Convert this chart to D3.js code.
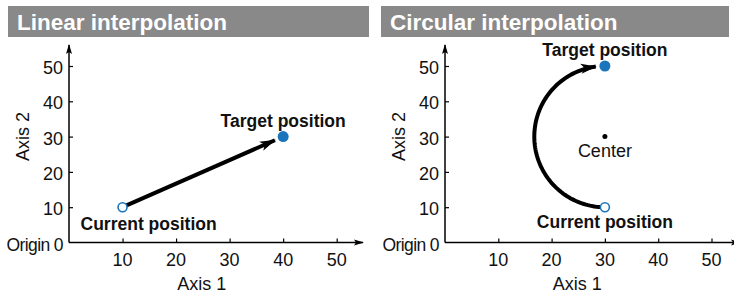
<!DOCTYPE html>
<html>
<head>
<meta charset="utf-8">
<script src="https://cdn.jsdelivr.net/npm/d3@7"></script>
<style>
  body { margin: 0; background: #fff; }
  text { font-family: "Liberation Sans", Arial, Helvetica, sans-serif; }
</style>
</head>
<body>
<svg id="chart" width="734" height="293"></svg>
<script>
// chart data
const panelTitles = ["Linear interpolation", "Circular interpolation"];
const xTicks = [10, 20, 30, 40, 50];
const yTicks = [10, 20, 30, 40, 50];
const linearCurrent = [10, 10];
const linearTarget = [40, 30];
const circCurrent = [30, 10];
const circTarget = [30, 50];
const circCenter = [30, 30];

const svg = d3.select('#chart');
const blue = '#1a75bc';

// arrow markers
const defs = svg.append('defs');
defs.append('marker')
    .attr('id', 'bigArrow')
    .attr('markerUnits', 'userSpaceOnUse')
    .attr('viewBox', '-16 -6 18 12')
    .attr('refX', 0).attr('refY', 0)
    .attr('markerWidth', 18).attr('markerHeight', 12)
    .attr('orient', 'auto')
    .append('path')
    .attr('d', 'M-15,-5 L1,0 L-15,5 L-11,0 Z')
    .attr('fill', '#000');
defs.append('marker')
    .attr('id', 'axisArrow')
    .attr('markerUnits', 'userSpaceOnUse')
    .attr('viewBox', '-10 -4 12 8')
    .attr('refX', 0).attr('refY', 0)
    .attr('markerWidth', 12).attr('markerHeight', 8)
    .attr('orient', 'auto')
    .append('path')
    .attr('d', 'M-9,-3 L1,0 L-9,3 L-7,0 Z')
    .attr('fill', '#000');

function drawPanel(i, left, right, axisEnd) {
    const x = d3.scaleLinear().domain([0, 50]).range([left, right]);
    const y = d3.scaleLinear().domain([0, 50]).range([242.5, 66]);
    const g = svg.append('g');

    // title bar
    const barX = i === 0 ? 8 : 381;
    const barW = i === 0 ? 361 : 348;
    g.append('rect').attr('x', barX).attr('y', 6).attr('width', barW).attr('height', 31)
        .attr('fill', '#898989');
    g.append('text').attr('x', barX + 9).attr('y', 30)
        .attr('fill', '#fff').attr('font-weight', 'bold').attr('font-size', 22.5)
        .text(panelTitles[i]);

    // axes lines with arrows
    g.append('line').attr('x1', x(0)).attr('y1', y(0)).attr('x2', x(0)).attr('y2', 45)
        .attr('stroke', '#000').attr('stroke-width', 1.5).attr('marker-end', 'url(#axisArrow)');
    g.append('line').attr('x1', x(0)).attr('y1', y(0)).attr('x2', axisEnd).attr('y2', y(0))
        .attr('stroke', '#000').attr('stroke-width', 1.5).attr('marker-end', 'url(#axisArrow)');

    // ticks
    const xAxis = d3.axisTop(x).tickValues(xTicks).tickSize(4).tickFormat('');
    g.append('g').attr('transform', `translate(0,${y(0)})`).call(xAxis)
        .call(s => s.select('.domain').remove())
        .call(s => s.selectAll('line').attr('stroke-width', 1.2));
    const yAxis = d3.axisRight(y).tickValues(yTicks).tickSize(4).tickFormat('');
    g.append('g').attr('transform', `translate(${x(0)},0)`).call(yAxis)
        .call(s => s.select('.domain').remove())
        .call(s => s.selectAll('line').attr('stroke-width', 1.2));

    // tick labels
    g.selectAll('.xl').data(xTicks).enter().append('text')
        .attr('x', d => x(d)).attr('y', y(0) + 23.5)
        .attr('text-anchor', 'middle').attr('font-size', 18).attr('fill', '#111')
        .text(d => d);
    g.selectAll('.yl').data(yTicks).enter().append('text')
        .attr('x', x(0) - 6).attr('y', d => y(d) + 8)
        .attr('text-anchor', 'end').attr('font-size', 18).attr('fill', '#111')
        .text(d => d);
    g.append('text').attr('x', x(0) - 6).attr('y', y(0) + 8)
        .attr('text-anchor', 'end').attr('font-size', 17.5).attr('letter-spacing', -0.6)
        .attr('fill', '#111')
        .text('Origin 0');

    // axis titles
    g.append('text').attr('x', (x(0) + x(50)) / 2 - 1).attr('y', 290)
        .attr('text-anchor', 'middle').attr('font-size', 18).attr('fill', '#111')
        .text('Axis 1');
    g.append('text')
        .attr('transform', `translate(${x(0) - 40},${y(30) + 0}) rotate(-90)`)
        .attr('text-anchor', 'middle').attr('font-size', 18).attr('fill', '#111')
        .text('Axis 2');

    return { g, x, y };
}

// left panel: linear interpolation
{
    const { g, x, y } = drawPanel(0, 69, 336.7, 363);
    const x0 = x(linearCurrent[0]), y0 = y(linearCurrent[1]);
    const x1 = x(linearTarget[0]), y1 = y(linearTarget[1]);
    const ang = Math.atan2(y1 - y0, x1 - x0);
    const d = Math.hypot(x1 - x0, y1 - y0);
    g.append('line')
        .attr('x1', x0).attr('y1', y0)
        .attr('x2', x0 + Math.cos(ang) * (d - 9)).attr('y2', y0 + Math.sin(ang) * (d - 9))
        .attr('stroke', '#000').attr('stroke-width', 4)
        .attr('marker-end', 'url(#bigArrow)');
    g.append('circle').attr('cx', x0).attr('cy', y0).attr('r', 4.5)
        .attr('fill', '#fff').attr('stroke', blue).attr('stroke-width', 1.6);
    g.append('circle').attr('cx', x1).attr('cy', y1).attr('r', 5.5).attr('fill', blue);
    g.append('text').attr('x', x1).attr('y', y1 - 10)
        .attr('text-anchor', 'middle').attr('font-size', 17.5).attr('font-weight', 'bold').attr('fill', '#111')
        .text('Target position');
    g.append('text').attr('x', x0 - 42).attr('y', y0 + 23)
        .attr('text-anchor', 'start').attr('font-size', 17.5).attr('font-weight', 'bold').attr('fill', '#111')
        .text('Current position');
}

// right panel: circular interpolation
{
    const { g, x, y } = drawPanel(1, 445, 711.5, 740);
    const cx = x(circCenter[0]), cy = y(circCenter[1]);
    const xs = x(circCurrent[0]), ys = y(circCurrent[1]);
    const xt = x(circTarget[0]), yt = y(circTarget[1]);
    const r = Math.hypot(xs - cx, ys - cy);
    const a0 = Math.atan2(ys - cy, xs - cx);
    const a1 = Math.atan2(yt - cy, xt - cx) + 2 * Math.PI;
    const arcPts = d3.range(0, 1.0001, 0.01).map(t => {
        const a = a0 + (a1 - 0.13 - a0) * t;
        return [cx + r * Math.cos(a), cy + r * Math.sin(a)];
    });
    g.append('path').attr('d', d3.line()(arcPts))
        .attr('fill', 'none').attr('stroke', '#000').attr('stroke-width', 4)
        .attr('marker-end', 'url(#bigArrow)');
    g.append('circle').attr('cx', xs).attr('cy', ys).attr('r', 4.5)
        .attr('fill', '#fff').attr('stroke', blue).attr('stroke-width', 1.6);
    g.append('circle').attr('cx', xt).attr('cy', yt).attr('r', 5.5).attr('fill', blue);
    g.append('circle').attr('cx', cx).attr('cy', cy).attr('r', 2.5).attr('fill', '#000');
    g.append('text').attr('x', xt).attr('y', yt - 10)
        .attr('text-anchor', 'middle').attr('font-size', 17.5).attr('font-weight', 'bold').attr('fill', '#111')
        .text('Target position');
    g.append('text').attr('x', cx).attr('y', cy + 20)
        .attr('text-anchor', 'middle').attr('font-size', 18).attr('fill', '#111')
        .text('Center');
    g.append('text').attr('x', xs).attr('y', ys + 21)
        .attr('text-anchor', 'middle').attr('font-size', 17.5).attr('font-weight', 'bold').attr('fill', '#111')
        .text('Current position');
}
</script>
</body>
</html>
